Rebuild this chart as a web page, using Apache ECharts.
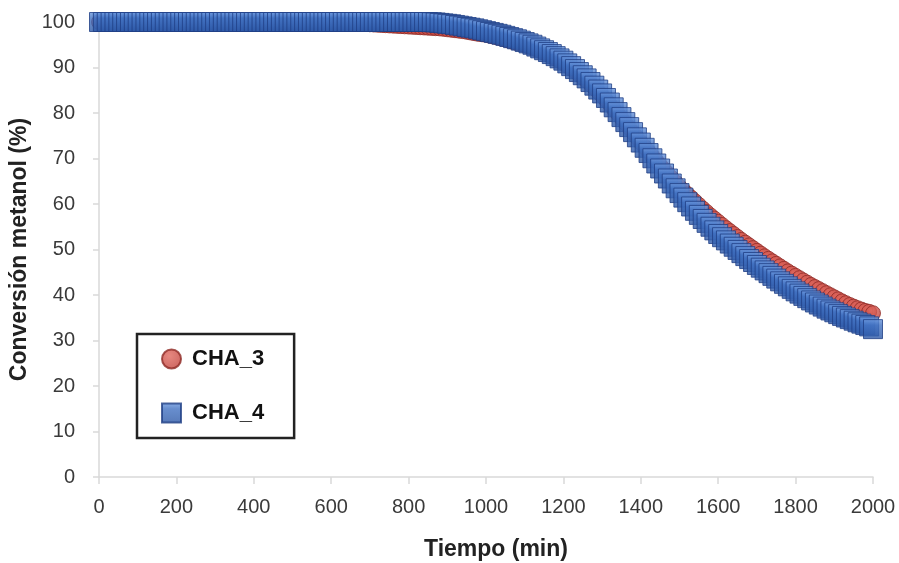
<!DOCTYPE html>
<html>
<head>
<meta charset="utf-8">
<script src="https://cdn.jsdelivr.net/npm/echarts@6/dist/echarts.min.js"></script>
<style>html,body{margin:0;padding:0;background:#fff}#c{width:899px;height:563px}</style>
</head>
<body>
<div id="c"></div>
<script>
// Time axis (min), one reading every 10 min
var tiempo = [];
for (var i = 0; i <= 200; i++) tiempo.push(i * 10);

var xTicks = [0,200,400,600,800,1000,1200,1400,1600,1800,2000];
var yTicks = [0,10,20,30,40,50,60,70,80,90,100];

// CHA_3 (red circles), rows of 10 readings: 0-90, 100-190, ...
var cha3 = [
100,100,100,100,100,100,100,100,100,100,
100,100,100,100,100,100,100,100,100,100,
100,100,100,100,100,100,100,100,100,100,
100,100,100,100,100,100,100,100,100,100,
100,100,100,100,100,100,100,100,100,100,
100,100,100,100,100,100,100,100,100,100,
100,99.95,99.9,99.85,99.8,99.75,99.7,99.65,99.6,99.55,
99.5,99.45,99.4,99.35,99.3,99.25,99.2,99.15,99.1,99.05,
99.0,98.95,98.9,98.85,98.8,98.75,98.7,98.65,98.6,98.5,
98.4,98.3,98.2,98.1,98.0,97.85,97.7,97.55,97.4,97.3,
97.2,97.0,96.8,96.6,96.4,96.15,95.9,95.65,95.4,95.2,
95.0,94.7,94.4,94.05,93.7,93.3,92.9,92.45,92.0,91.5,
91.0,90.4,89.8,89.15,88.5,87.8,87.1,86.3,85.5,84.65,
83.8,82.85,81.9,80.9,79.9,78.85,77.8,76.75,75.7,74.65,
73.5,72.5,71.5,70.5,69.5,68.55,67.6,66.65,65.7,64.75,
63.8,63.0,62.2,61.4,60.6,59.8,59.0,58.25,57.5,56.8,
56.1,55.4,54.7,54.05,53.4,52.75,52.1,51.5,50.9,50.3,
49.7,49.1,48.5,47.95,47.4,46.85,46.3,45.75,45.2,44.7,
44.2,43.7,43.2,42.7,42.2,41.75,41.3,40.85,40.4,39.95,
39.5,39.05,38.6,38.2,37.8,37.45,37.1,36.8,36.5,36.3,
36.0
];

// CHA_4 (blue squares), rows of 10 readings
var cha4 = [
100,100,100,100,100,100,100,100,100,100,
100,100,100,100,100,100,100,100,100,100,
100,100,100,100,100,100,100,100,100,100,
100,100,100,100,100,100,100,100,100,100,
100,100,100,100,100,100,100,100,100,100,
100,100,100,100,100,100,100,100,100,100,
100,100,100,100,100,100,100,100,100,100,
100,100,100,100,100,100,100,100,100,100,
100,100,100,100,100,100,99.95,99.9,99.8,99.7,
99.6,99.5,99.35,99.2,99.05,98.9,98.75,98.6,98.4,98.2,
98.0,97.8,97.6,97.4,97.2,96.95,96.7,96.45,96.2,95.9,
95.6,95.3,95.0,94.6,94.2,93.8,93.4,92.95,92.5,92.0,
91.5,90.9,90.3,89.65,89.0,88.3,87.6,86.8,86.0,85.15,
84.3,83.3,82.3,81.25,80.2,79.1,78.0,76.9,75.8,74.65,
73.5,72.35,71.2,70.05,68.9,67.8,66.7,65.6,64.5,63.45,
62.4,61.4,60.4,59.45,58.5,57.6,56.7,55.85,55.0,54.2,
53.4,52.7,52.0,51.3,50.6,49.9,49.2,48.55,47.9,47.25,
46.6,46.0,45.4,44.8,44.2,43.6,43.0,42.45,41.9,41.35,
40.8,40.3,39.8,39.3,38.8,38.35,37.9,37.45,37.0,36.6,
36.2,35.8,35.4,35.05,34.7,34.35,34.0,33.7,33.4,33.1,
32.5
];

function pairs(xs, ys) { return xs.map(function (x, i) { return [x, ys[i]]; }); }

var chart = echarts.init(document.getElementById('c'), null, {renderer: 'canvas'});
var FONT = '"Liberation Sans", Arial, sans-serif';
var axisGrey = '#d9d9d9';

var blueFill = new echarts.graphic.LinearGradient(0, 0, 0, 1, [
  {offset: 0, color: '#6f9be0'}, {offset: 0.3, color: '#4272c2'}, {offset: 1, color: '#2d58a6'}
]);
var redFill = new echarts.graphic.RadialGradient(0.4, 0.35, 0.7, [
  {offset: 0, color: '#e06a60'}, {offset: 1, color: '#c0403a'}
]);

chart.setOption({
  animation: false,
  backgroundColor: '#fff',
  grid: {left: 99, right: 26, top: 22, bottom: 86, outerBoundsMode: 'none', containLabel: false},
  xAxis: {
    type: 'value', min: 0, max: 2000, interval: 200,
    axisLine: {show: true, lineStyle: {color: axisGrey, width: 1.5}},
    axisTick: {show: true, length: 7, lineStyle: {color: axisGrey, width: 1.5}},
    splitLine: {show: false},
    axisLabel: {margin: 20, fontSize: 20, color: '#3a3a3a', fontFamily: FONT,
      customValues: xTicks, formatter: function (v) { return String(v); }}
  },
  yAxis: {
    type: 'value', min: 0, max: 100, interval: 10,
    axisLine: {show: true, lineStyle: {color: axisGrey, width: 1.5}},
    axisTick: {show: true, length: 6, lineStyle: {color: axisGrey, width: 1.5}},
    splitLine: {show: false},
    axisLabel: {margin: 24, fontSize: 20, color: '#3a3a3a', fontFamily: FONT,
      customValues: yTicks, formatter: function (v) { return String(v); }},
    name: 'Conversión metanol (%)', nameLocation: 'middle', nameGap: 67,
    nameTextStyle: {fontSize: 23, fontWeight: 'bold', color: '#222', fontFamily: FONT}
  },
  legend: {
    orient: 'vertical', left: 137, top: 334,
    width: 156,
    padding: [14, 30, 14, 24],
    itemGap: 32, itemWidth: 19, itemHeight: 19,
    borderColor: '#222', borderWidth: 2.5,
    textStyle: {fontSize: 22, fontWeight: 'bold', color: '#111', fontFamily: FONT, padding: [0, 0, 0, 6]},
    data: [
      {name: 'CHA_3', icon: 'circle'},
      {name: 'CHA_4', icon: 'rect'}
    ]
  },
  graphic: [{
    type: 'text', left: 424, top: 538,
    style: {text: 'Tiempo (min)', fontSize: 23, fontWeight: 'bold', fill: '#222', fontFamily: FONT}
  }],
  series: [
    {
      name: 'CHA_3', type: 'scatter', symbol: 'circle', symbolSize: 15,
      data: pairs(tiempo, cha3),
      itemStyle: {color: redFill, borderColor: '#8e2a26', borderWidth: 1}
    },
    {
      name: 'CHA_4', type: 'scatter', symbol: 'rect', symbolSize: 19,
      data: pairs(tiempo, cha4),
      itemStyle: {color: blueFill, borderColor: '#1f3f85', borderWidth: 1}
    }
  ]
});
</script>
</body>
</html>
